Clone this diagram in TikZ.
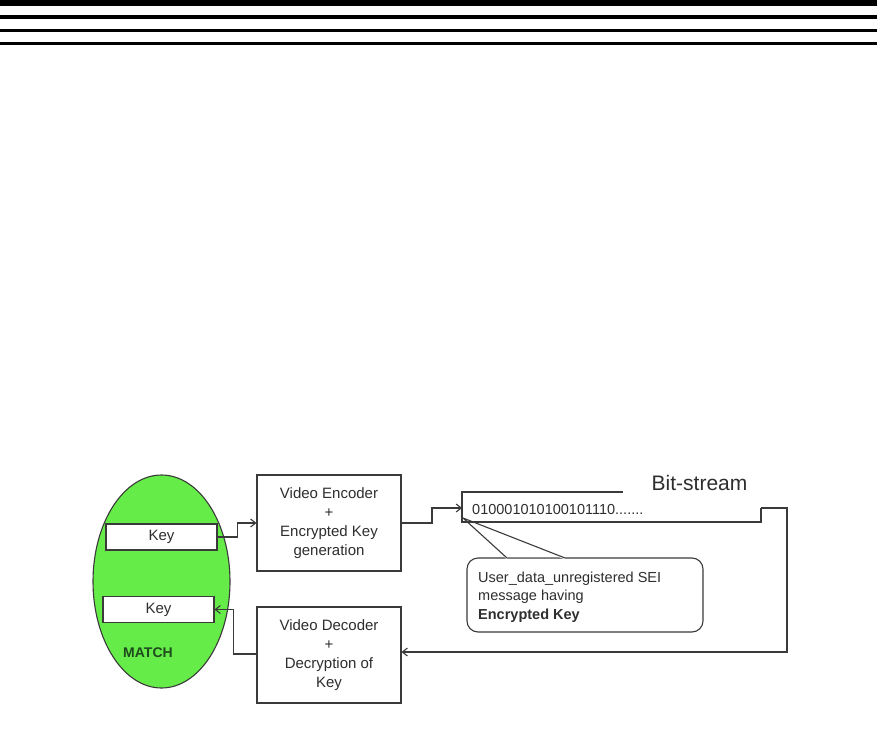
\documentclass[tikz,border=0pt]{standalone}
\usepackage{fontspec}
\setmainfont{Liberation Sans}
\usetikzlibrary{shapes.geometric,arrows.meta}
\definecolor{ln}{HTML}{3A3A3A}
\definecolor{tx}{HTML}{2E2E2E}
\definecolor{grn}{RGB}{102,236,72}
\definecolor{dgrn}{HTML}{1E4A1E}
\begin{document}
\begin{tikzpicture}[x=1pt,y=-1pt,
  boxtxt/.style={font=\fontsize{15}{19}\selectfont, text=tx, align=center},
  procbox/.style={draw=ln, line width=1.1pt, fill=white, minimum width=144, minimum height=96, inner sep=0pt, boxtxt},
  keybox/.style={draw=ln, line width=1.1pt, fill=white, minimum width=111, minimum height=26, inner sep=0pt, boxtxt},
  conn/.style={draw=ln, line width=1.1pt},
  arr/.style={conn, -{Straight Barb[length=5pt,width=8pt]}}]
\useasboundingbox (0,0) rectangle (877,735);
% top rules
\fill[black] (0,0) rectangle (877,6);
\fill[black] (0,15) rectangle (877,19);
\fill[black] (0,29) rectangle (877,32);
\fill[black] (0,42) rectangle (877,45);
% ellipse
\node[ellipse, draw=ln, line width=1.1pt, fill=grn, minimum width=137, minimum height=213, inner sep=0pt] (match) at (161.5,581.5) {};
\node[font=\fontsize{14}{16}\selectfont\bfseries, text=dgrn] (matchtxt) at (148,653) {MATCH};
\node[keybox] (key1) at (161.5,537) {Key};
\node[keybox] (key2) at (158.5,609.5) {Key};
% process boxes
\node[procbox] (enc) at (329,523) {Video Encoder\\+\\Encrypted Key\\generation};
\node[procbox] (dec) at (329,655) {Video Decoder\\+\\Decryption of\\Key};
% callout
\node[draw=ln, line width=1.1pt, rounded corners=11pt, minimum width=236, minimum height=74, inner sep=0pt, fill=white] (sei) at (585,595) {};
\coordinate (ptA) at (507,558);
\coordinate (ptB) at (565,558);
\coordinate (tip) at (463,518);
\fill[white] ([yshift=-1.5pt]ptA) -- (tip) -- ([yshift=-1.5pt]ptB) -- ([yshift=1pt]ptB) -- ([yshift=1pt]ptA) -- cycle;
\draw[conn, line join=miter] (ptA) -- (tip) -- (ptB);
\node[anchor=west, align=left, font=\fontsize{14.5}{18.5}\selectfont, text=tx, inner sep=0pt] (seitxt) at (478,597) {User\_data\_unregistered SEI\\message having\\\textbf{Encrypted Key}};
% bit-stream
\coordinate (bsTL) at (462,492);
\coordinate (bsTR) at (623,492);
\coordinate (bsBL) at (462,522);
\coordinate (bsBR) at (761,522);
\coordinate (bsR) at (761,508);
\coordinate (bsIn) at (462,508);
\node[anchor=west, font=\fontsize{14.5}{16}\selectfont, text=tx, inner sep=0pt] (bits) at (472,510) {010001010100101110.......};
\node[font=\fontsize{21}{24}\selectfont, text=tx, inner sep=0pt] (bstitle) at (699.5,483) {Bit-stream};
\draw[conn] (bsTR) -- (bsTL) -- (bsBL) -- (bsBR) -- (bsR);
% connectors
\draw[arr] (key1.east) -- ++(20,0) |- (enc.west);
\draw[arr] (enc.east) -- (432,523) |- (bsIn);
\draw[arr] (bsR) -- (787,508) |- ([yshift=3pt]dec.east);
\draw[arr] ([yshift=1pt]dec.west) -- ++(-23,0) |- (key2.east);
\end{tikzpicture}
\end{document}
